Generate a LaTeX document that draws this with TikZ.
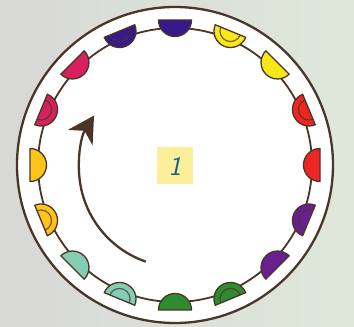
\documentclass[tikz,border=0pt]{standalone}
\usetikzlibrary{arrows.meta}
\definecolor{bgL}{HTML}{D8D8D7}
\definecolor{bgR}{HTML}{DEE8DA}
\definecolor{brn}{HTML}{4A3529}
\definecolor{cIndigo}{HTML}{36198A}
\definecolor{cYellow}{HTML}{F8E817}
\definecolor{cRed}{HTML}{EC2620}
\definecolor{cPurple}{HTML}{69208F}
\definecolor{cGreen}{HTML}{2F8B2F}
\definecolor{cMint}{HTML}{82CDB4}
\definecolor{cGold}{HTML}{FDC419}
\definecolor{cCrimson}{HTML}{D6215E}
\definecolor{lblbg}{HTML}{FBEF9C}
\definecolor{lbltxt}{HTML}{1B5E8C}
\tikzset{
  ring/.style={draw=brn, line width=2.3pt},
  track/.style={draw=brn, line width=1.8pt},
  half/.style={draw=brn, line width=1.3pt, line join=round},
  innerarc/.style={draw=brn, draw opacity=0.75, line width=1.2pt},
  turnarrow/.style={draw=brn, line width=2.3pt, -{Stealth[length=26pt,width=29pt,inset=8pt]}},
  lbl/.style={fill=lblbg, minimum width=36pt, minimum height=37pt, inner sep=0pt, text=lbltxt, font=\sffamily\itshape\fontsize{27}{27}\selectfont}
}
% semicircle at angle #1, colour #2, flat side outward
\newcommand{\halfsolid}[2]{%
  \begin{scope}[shift={(C)}, rotate=#1]
    \path[half, fill=#2] (145,16.5) arc[start angle=90, end angle=270, radius=16.5] -- cycle;
  \end{scope}}
\newcommand{\halfring}[2]{%
  \begin{scope}[shift={(C)}, rotate=#1]
    \path[half, fill=#2] (145,16.5) arc[start angle=90, end angle=270, radius=16.5] -- cycle;
    \path[innerarc] (145,10.5) arc[start angle=90, end angle=270, radius=10.5];
  \end{scope}}
\begin{document}
\begin{tikzpicture}[x=1pt, y=1pt]
  \useasboundingbox (0,0) rectangle (354,327);
  \shade[left color=bgL, right color=bgR] (0,0) rectangle (354,327);
  \coordinate (C) at (175,162);
  \coordinate (A) at (178,159);
  \path[ring, fill=white] (C) circle[radius=158];
  \path[track] (C) circle[radius=137];
  \halfsolid{90}{cIndigo}
  \halfring{67.5}{cYellow}
  \halfsolid{45}{cYellow}
  \halfring{22.5}{cRed}
  \halfsolid{0}{cRed}
  \halfring{-22.5}{cPurple}
  \halfsolid{-45}{cPurple}
  \halfring{-67.5}{cGreen}
  \halfsolid{-90}{cGreen}
  \halfring{-112.5}{cMint}
  \halfsolid{-135}{cMint}
  \halfring{-157.5}{cGold}
  \halfsolid{180}{cGold}
  \halfring{157.5}{cCrimson}
  \halfsolid{135}{cCrimson}
  \halfring{112.5}{cIndigo}
  \draw[turnarrow] ([shift={(251:99)}]A) arc[start angle=251, end angle=148, radius=99];
  \node[lbl] (num) at (175,161) {1};
\end{tikzpicture}
\end{document}
